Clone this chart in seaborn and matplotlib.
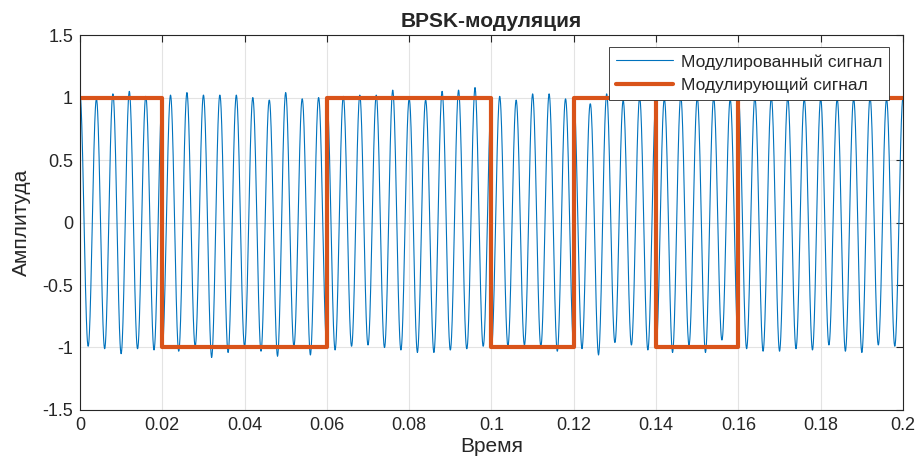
import numpy as np
import pandas as pd
import matplotlib
matplotlib.use('Agg')
import matplotlib.pyplot as plt
import seaborn as sns

# bit intervals and values of the modulating signal
bit_edges = [0, 0.02, 0.04, 0.06, 0.08, 0.10, 0.12, 0.14, 0.16, 0.18, 0.20]
bits = [1, -1, -1, 1, 1, -1, 1, -1, 1, 1]
carrier_freq = 250  # Hz, 5 periods per bit

# magnitude of every half-period extremum of the modulated signal
peak_amp = [1.03, 0.99, 0.99, 1.01, 1.03, 1.05, 1.05, 1.01, 1.01, 1.02,
            1.00, 1.02, 1.03, 1.04, 0.99, 1.02, 1.08, 1.02, 1.04, 1.02,
            0.99, 1.00, 1.03, 0.98, 1.07, 1.04, 0.99, 0.99, 1.06, 1.00,
            1.00, 1.02, 1.01, 0.99, 1.02, 0.98, 1.02, 1.00, 1.06, 1.02,
            0.99, 1.04, 0.98, 1.04, 1.05, 1.02, 1.06, 1.01, 1.08, 0.99,
            1.00, 1.01, 0.99, 0.98, 0.98, 1.03, 0.99, 1.03, 1.03, 0.99,
            1.00, 1.01, 0.95, 1.06, 1.03, 0.96, 0.98, 0.98, 1.00, 1.02,
            1.00, 0.99, 1.04, 1.01, 0.98, 1.00, 1.04, 1.00, 0.94, 0.99,
            1.00, 1.01, 1.00, 1.03, 1.00, 1.03, 1.00, 1.01, 0.99, 1.02,
            0.99, 0.98, 0.99, 1.03, 0.99, 1.04, 1.00, 0.98, 0.99, 0.99,
            1.00]

t = np.linspace(0, 0.2, 4001)
idx = np.clip(np.searchsorted(bit_edges, t, side='right') - 1, 0, len(bits) - 1)
bit_t = np.array(bits)[idx]
amp_t = np.interp(t, np.arange(len(peak_amp)) * 0.002, peak_amp)
modulated = amp_t * bit_t * np.cos(2 * np.pi * carrier_freq * t)

mod_df = pd.DataFrame({'t': t, 'y': modulated})
step_df = pd.DataFrame({'t': bit_edges, 'y': bits + [bits[-1]]})

sns.set_style('white')
plt.rcParams['font.family'] = ['Liberation Sans', 'DejaVu Sans']
plt.rcParams['axes.unicode_minus'] = False

fig = plt.figure(figsize=(9.19, 4.68), dpi=100)
ax = fig.add_axes([0.087, 0.124, 0.8956, 0.801])

sns.lineplot(data=mod_df, x='t', y='y', ax=ax, color='#0072BD', linewidth=0.8,
             label='Модулированный сигнал', sort=False)
sns.lineplot(data=step_df, x='t', y='y', ax=ax, color='#D95319', linewidth=3,
             drawstyle='steps-post', label='Модулирующий сигнал', sort=False)

ax.set_xlim(0, 0.2)
ax.set_ylim(-1.5, 1.5)
ax.set_xticks(np.arange(0, 0.2001, 0.02))
ax.set_yticks([-1.5, -1, -0.5, 0, 0.5, 1, 1.5])
ax.xaxis.set_major_formatter(plt.FormatStrFormatter('%g'))
ax.yaxis.set_major_formatter(plt.FormatStrFormatter('%g'))
ax.grid(True, color='#e3e3e3', linewidth=0.8)
ax.set_axisbelow(True)
ax.tick_params(direction='in', top=True, right=True, length=5, width=0.8,
               labelsize=13, colors='#262626', labelcolor='#262626', pad=5)
for s in ax.spines.values():
    s.set_color('#262626')
    s.set_linewidth(0.8)

ax.set_title('BPSK-модуляция', fontsize=15, fontweight='bold', pad=6)
ax.set_xlabel('Время', fontsize=15, color='#262626', labelpad=2)
ax.set_ylabel('Амплитуда', fontsize=15, color='#262626', labelpad=8)

leg = ax.legend(loc='upper right', fontsize=12.5, fancybox=False, framealpha=1,
                edgecolor='#262626', borderpad=0.4, handlelength=3.3,
                handletextpad=0.45, labelspacing=0.45, borderaxespad=0,
                bbox_to_anchor=(0.983, 0.968))
leg.get_frame().set_linewidth(0.6)

fig.savefig('out.png', dpi=100)
